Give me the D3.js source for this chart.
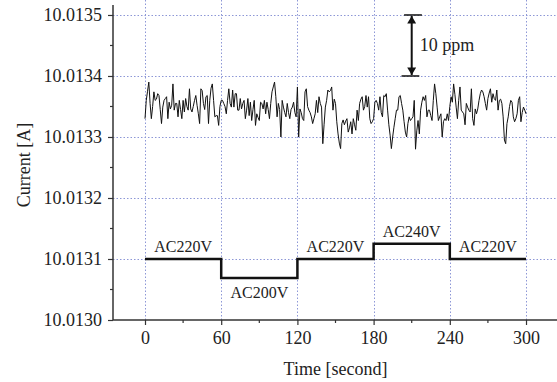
<!DOCTYPE html>
<html>
<head>
<meta charset="utf-8">
<script src="https://cdn.jsdelivr.net/npm/d3@7"></script>
<style>
  body { margin: 0; background: #fff; }
  text { font-family: "Liberation Serif", "Times New Roman", serif; fill: #222; }
</style>
</head>
<body>
<script>
// ticks
const timeTicks = [0, 60, 120, 180, 240, 300];
const timeMinorTicks = [30, 90, 150, 210, 270];
const currentTicks = [10.0130, 10.0131, 10.0132, 10.0133, 10.0134, 10.0135];
const currentMinorTicks = [10.01305, 10.01315, 10.01325, 10.01335, 10.01345];

// supply voltage steps
const stepStart = [0, 60, 120, 180, 240];
const stepEnd = [60, 120, 180, 240, 300];
const stepCurrent = [10.0131, 10.013069, 10.0131, 10.013125, 10.0131];
const stepLabels = ["AC220V", "AC200V", "AC220V", "AC240V", "AC220V"];

// measured current, one sample per second, offset from 10.0133 A in µA
const noiseBase = 10.0133;
const noiseOffsetMicroA = [
  30,60,75,90,55,30,50,74,60,62, 71,68,45,22,49,60,63,66,30,57,
  46,52,87,44,55,55,33,60,45,30, 60,41,63,50,44,79,46,41,50,60,
  68,52,38,22,79,76,55,45,66,68, 22,60,80,87,60,33,35,35,19,50,
  60,60,55,50,38,60,79,55,49,77, 49,71,71,44,44,63,46,55,60,30,
  44,63,35,57,27,45,60,19,38,32, 27,57,55,46,60,38,57,45,30,55,
  74,82,90,66,33,55,45,0,60,49, 40,33,55,40,30,45,49,57,40,33,
  82,0,46,40,30,27,74,79,50,44, 40,33,22,30,38,60,40,66,55,49,
  -11,20,49,60,77,74,76,82,44,62, 55,25,5,-10,-19,22,28,20,26,30,
  8,15,25,5,30,20,11,44,27,55, 62,66,44,50,68,49,66,30,22,25,
  30,57,60,55,44,66,40,33,68,66, 71,44,20,3,-19,0,16,30,44,44,
  66,68,55,44,25,8,0,22,33,27, 30,33,60,-20,10,27,5,44,57,66,
  60,68,33,44,44,35,27,60,87,71, 49,27,33,38,0,25,30,27,38,27,
  50,66,57,87,70,49,30,60,82,44, 41,38,20,55,49,44,41,79,30,19,
  46,38,46,60,71,77,74,66,55,44, 63,72,79,57,71,63,60,77,44,60,
  62,55,33,-5,-11,22,33,50,60,57, 33,25,30,38,60,66,25,40,49,44,38
];

// 10 ppm marker
const ppmTime = 210;
const ppmTop = 10.0135;
const ppmBottom = 10.0134;

const width = 557, height = 382;
const margin = { top: 4, right: 0, bottom: 62, left: 113 };

const svg = d3.select("body").append("svg")
  .attr("width", width)
  .attr("height", height);

const x = d3.scaleLinear().domain([-25.2, 324.4]).range([margin.left, width - margin.right]);
const y = d3.scaleLinear().domain([10.0130, 10.013518]).range([height - margin.bottom, margin.top]);

const gridColor = "#8d97d6";
const px = v => Math.round(v) + 0.5;

// grid
const grid = svg.append("g").attr("class", "grid");
grid.selectAll(".vgrid").data(timeTicks).join("path")
  .attr("class", "vgrid")
  .attr("d", d => `M${px(x(d))},${y.range()[0]}V0`)
  .attr("fill", "none")
  .attr("stroke", gridColor).attr("stroke-width", 1).attr("stroke-dasharray", "1.5,2");

grid.selectAll(".hgrid").data(currentTicks.slice(1)).join("path")
  .attr("class", "hgrid")
  .attr("d", d => `M${margin.left},${px(y(d))}H${width}`)
  .attr("fill", "none")
  .attr("stroke", gridColor).attr("stroke-width", 1).attr("stroke-dasharray", "1.5,2");

// axes
const xAxis = svg.append("g")
  .attr("transform", `translate(0,${y.range()[0]})`)
  .call(d3.axisBottom(x).tickValues(timeTicks).tickSize(5).tickPadding(6).tickFormat(d3.format("d")));
xAxis.append("g").selectAll("line").data(timeMinorTicks).join("line")
  .attr("x1", d => x(d)).attr("x2", d => x(d)).attr("y1", 0).attr("y2", 3)
  .attr("stroke", "#333").attr("stroke-width", 1.2);

const yAxis = svg.append("g")
  .attr("transform", `translate(${margin.left},0)`)
  .call(d3.axisLeft(y).tickValues(currentTicks).tickSize(5).tickPadding(6).tickFormat(d3.format(".4f")));
yAxis.append("g").selectAll("line").data(currentMinorTicks).join("line")
  .attr("y1", d => y(d)).attr("y2", d => y(d)).attr("x1", 0).attr("x2", -3)
  .attr("stroke", "#333").attr("stroke-width", 1.2);

[xAxis, yAxis].forEach(a => {
  a.select(".domain").attr("stroke", "#333").attr("stroke-width", 1.5);
  a.selectAll(".tick line").attr("stroke", "#333").attr("stroke-width", 1.2);
  a.selectAll(".tick text")
    .attr("font-family", "Liberation Serif")
    .attr("font-size", 18)
    .attr("fill", "#222");
});
xAxis.select(".domain").attr("d", `M${margin.left},0H${width}`);
yAxis.select(".domain").attr("d", `M0,${y.range()[0]}V${margin.top + 1}`);

// noise trace
const line = d3.line()
  .x((d, i) => x(i))
  .y(d => y(noiseBase + d * 1e-6));

svg.append("path")
  .datum(noiseOffsetMicroA)
  .attr("d", line)
  .attr("fill", "none")
  .attr("stroke", "#111")
  .attr("stroke-width", 1)
  .attr("stroke-linejoin", "miter");

// voltage step trace
const steps = [];
stepStart.forEach((s, i) => {
  steps.push([s, stepCurrent[i]]);
  steps.push([stepEnd[i], stepCurrent[i]]);
});
svg.append("path")
  .datum(steps)
  .attr("d", d3.line().x(d => x(d[0])).y(d => y(d[1])))
  .attr("fill", "none")
  .attr("stroke", "#111")
  .attr("stroke-width", 2.5);

svg.append("g").selectAll("text").data(stepLabels).join("text")
  .attr("x", (d, i) => x((stepStart[i] + stepEnd[i]) / 2))
  .attr("y", (d, i) => i === 1 ? y(stepCurrent[i]) + 20 : y(stepCurrent[i]) - 7)
  .attr("text-anchor", "middle")
  .attr("font-size", 16)
  .text(d => d);

// 10 ppm marker
const defs = svg.append("defs");
defs.append("marker")
  .attr("id", "arrow")
  .attr("viewBox", "0 0 10 12")
  .attr("refX", 10).attr("refY", 6)
  .attr("markerWidth", 14).attr("markerHeight", 9)
  .attr("markerUnits", "userSpaceOnUse")
  .attr("orient", "auto-start-reverse")
  .append("path").attr("d", "M0,0 L10,6 L0,12 z").attr("fill", "#111");

svg.append("line")
  .attr("x1", x(ppmTime)).attr("x2", x(ppmTime))
  .attr("y1", y(ppmTop) + 1).attr("y2", y(ppmBottom) - 1)
  .attr("stroke", "#111").attr("stroke-width", 2)
  .attr("marker-start", "url(#arrow)").attr("marker-end", "url(#arrow)");
svg.append("line")
  .attr("x1", x(ppmTime - 6)).attr("x2", x(ppmTime + 8))
  .attr("y1", y(ppmTop)).attr("y2", y(ppmTop))
  .attr("stroke", "#111").attr("stroke-width", 1.5);
svg.append("line")
  .attr("x1", x(ppmTime - 8)).attr("x2", x(ppmTime + 6))
  .attr("y1", y(ppmBottom)).attr("y2", y(ppmBottom))
  .attr("stroke", "#111").attr("stroke-width", 1.5);
svg.append("text")
  .attr("x", x(ppmTime) + 8)
  .attr("y", (y(ppmTop) + y(ppmBottom)) / 2 + 6)
  .attr("font-size", 18)
  .text("10 ppm");

// axis titles
svg.append("text")
  .attr("x", (x(0) + x(300)) / 2)
  .attr("y", 375)
  .attr("text-anchor", "middle")
  .attr("font-size", 18)
  .text("Time [second]");

svg.append("text")
  .attr("transform", `translate(30,${(margin.top + y.range()[0]) / 2 + 3}) rotate(-90)`)
  .attr("text-anchor", "middle")
  .attr("font-size", 18)
  .text("Current [A]");
</script>
</body>
</html>
